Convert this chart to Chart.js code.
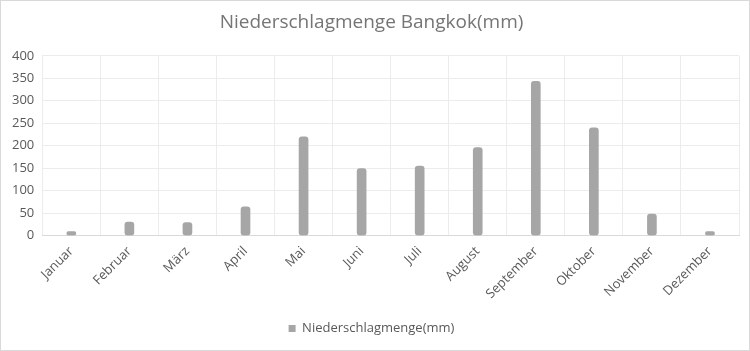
<!DOCTYPE html>
<html lang="de">
<head>
  <meta charset="UTF-8">
  <title>Niederschlagmenge Bangkok</title>
  <style>
    body { margin: 0; background: #fff; }
    .wrap {
      width: 750px;
      height: 351px;
      border: 1px solid #d9d9d9;
      box-sizing: border-box;
    }
  </style>
</head>
<body>
  <div class="wrap">
    <canvas id="chart1" width="748" height="349"></canvas>
  </div>

  <script src="https://cdn.jsdelivr.net/npm/chart.js@4/dist/chart.umd.min.js"></script>
  <script>
    // Monate und Niederschlag (mm)
    const months = ["Januar", "Februar", "März", "April", "Mai", "Juni", "Juli", "August", "September", "Oktober", "November", "Dezember"];
    const rain = [9, 30, 29, 64, 220, 149, 155, 196, 343, 240, 48, 9];
    const yTicks = [0, 50, 100, 150, 200, 250, 300, 350, 400];

    const font = "'Open Sans', 'Noto Sans', sans-serif";

    new Chart(document.getElementById("chart1"), {
      type: "bar",
      data: {
        labels: months,
        datasets: [
          {
            label: "Niederschlagmenge(mm)",
            data: rain,
            backgroundColor: "#a6a6a6",
            borderWidth: 0,
            barThickness: 9,
            borderRadius: 3,
            borderSkipped: false,
          },
        ],
      },
      options: {
        responsive: false,
        animation: false,
        devicePixelRatio: 1,
        layout: { padding: { left: 3, right: 10, top: 6, bottom: 5 } },
        plugins: {
          title: {
            display: true,
            text: "Niederschlagmenge Bangkok(mm)",
            color: "#757575",
            font: { family: font, size: 19, weight: "normal" },
            padding: { top: 4, bottom: 22 },
          },
          legend: {
            position: "bottom",
            labels: {
              color: "#595959",
              font: { family: font, size: 13 },
              boxWidth: 7,
              boxHeight: 7,
              padding: 12,
            },
          },
          tooltip: { enabled: false },
        },
        scales: {
          x: {
            grid: { color: "#ececec", offset: true, drawTicks: false },
            border: { color: "#d9d9d9" },
            ticks: {
              color: "#595959",
              font: { family: font, size: 13 },
              minRotation: 45,
              maxRotation: 45,
              autoSkip: false,
              padding: 8,
            },
          },
          y: {
            min: 0,
            max: 400,
            afterBuildTicks: (axis) => { axis.ticks = yTicks.map(v => ({ value: v })); },
            grid: { color: "#ececec", drawTicks: false },
            border: { display: false },
            ticks: {
              color: "#595959",
              font: { family: font, size: 13 },
              padding: 8,
            },
          },
        },
      },
    });
  </script>
</body>
</html>
